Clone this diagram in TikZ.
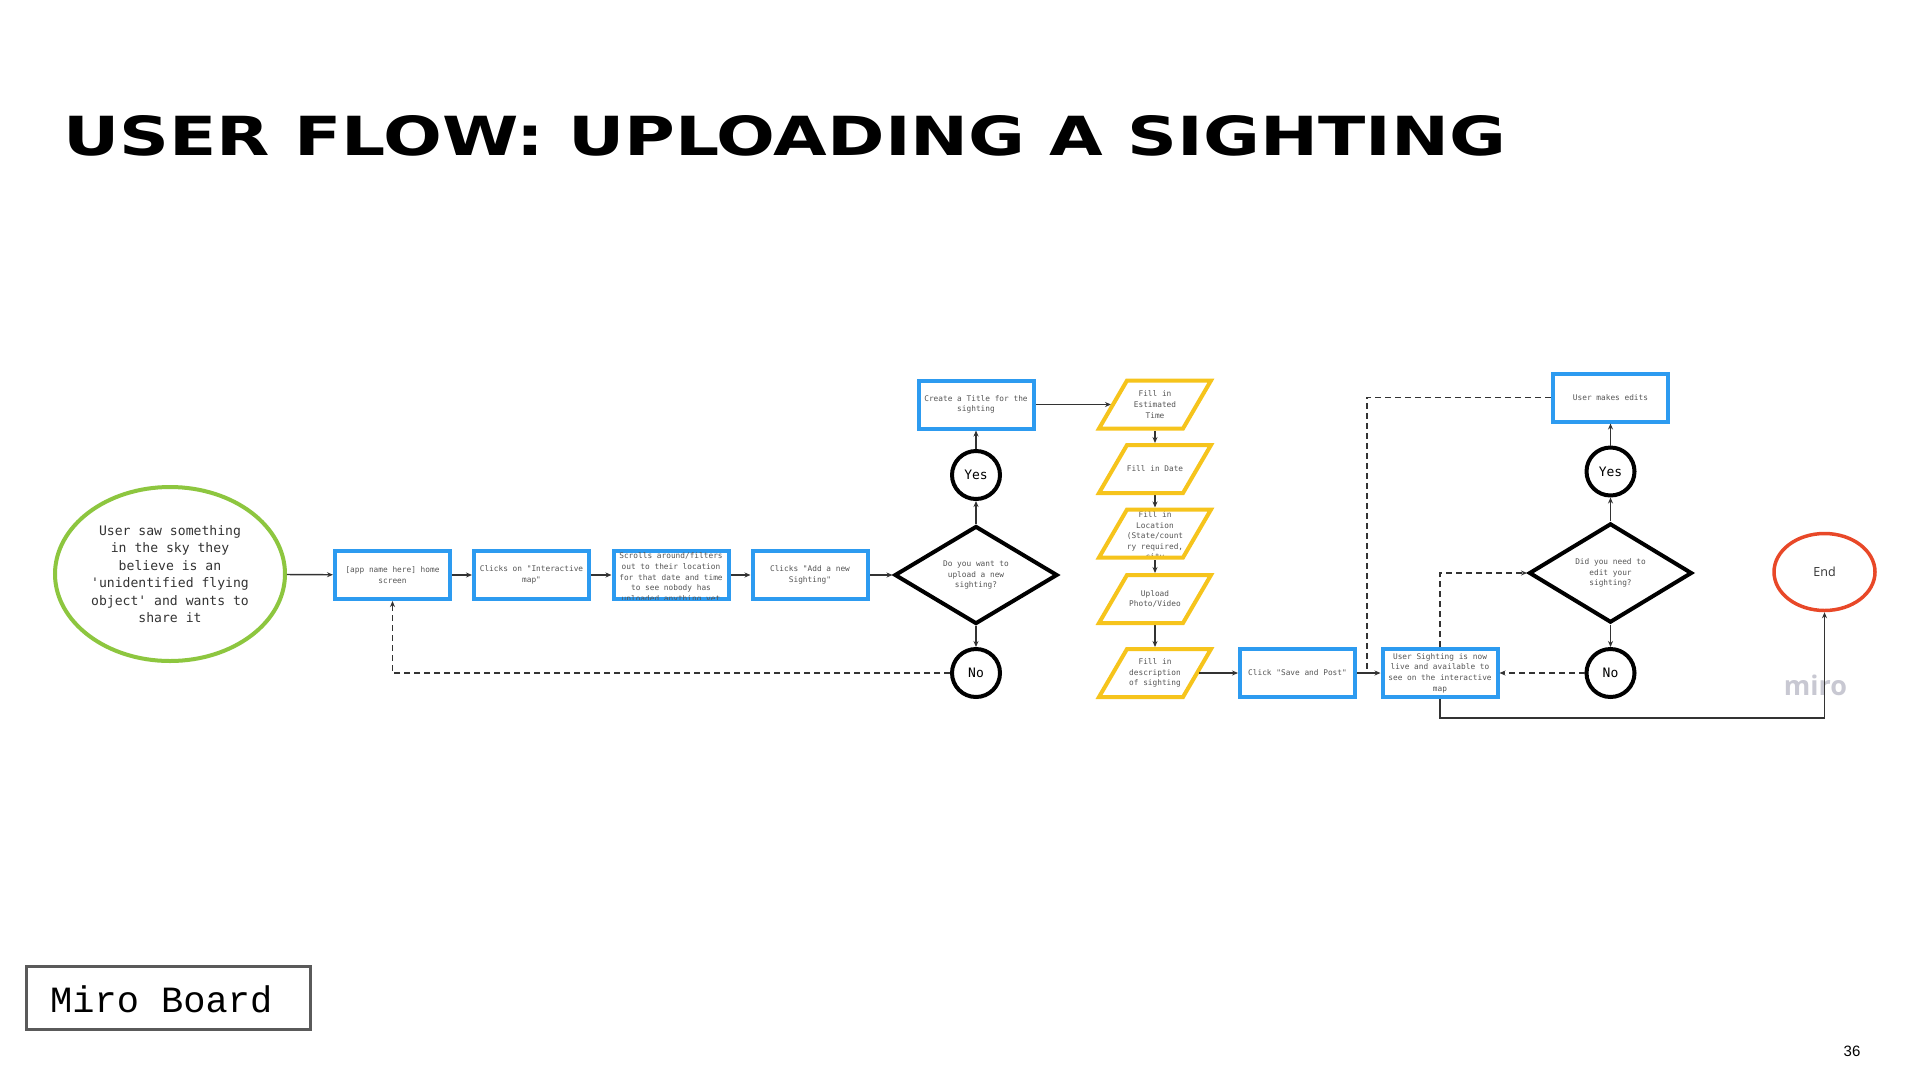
\documentclass[tikz,border=0pt]{standalone}
\usepackage{graphicx}
\usepackage{fontspec}
\setmainfont{Open Sans}
\setmonofont{DejaVu Sans Mono}
\newfontfamily\titlefont{DejaVu Sans}
\newfontfamily\courierfont{Liberation Mono}
\newfontfamily\arialfont{Liberation Sans}
\usetikzlibrary{arrows.meta,calc,shapes.geometric}
\definecolor{mrBlue}{RGB}{45,155,240}
\definecolor{mrYellow}{RGB}{246,196,28}
\definecolor{mrGreen}{RGB}{141,198,63}
\definecolor{mrRed}{RGB}{232,72,40}
\definecolor{mrInk}{RGB}{51,51,51}
\definecolor{mrText}{RGB}{85,85,85}
\definecolor{mrMark}{RGB}{200,200,210}
\definecolor{mrFrame}{RGB}{90,90,90}
\tikzset{
    >={Stealth[length=6pt,width=5pt]},
    every node/.append style={align=center},
    small/.style={font=\ttfamily\fontsize{7.8}{10.6}\selectfont,text=mrText},
    bluebox/.style={rectangle,draw=mrBlue,line width=4pt,minimum width=115pt,minimum height=48pt,inner sep=0pt,small},
    slant/.style={rectangle,minimum width=84pt,minimum height=48pt,inner sep=0pt,outer sep=2pt,small},
    slantline/.style={draw=mrYellow,line width=4pt,line join=miter},
    ask/.style={diamond,draw=black,line width=4pt,minimum width=163pt,minimum height=98pt,inner sep=0pt,small},
    answer/.style={circle,draw=black,line width=4pt,minimum size=48pt,inner sep=0pt,font=\ttfamily\fontsize{13}{15}\selectfont,text=black},
    link/.style={draw=mrInk,line width=1.4pt},
    back/.style={link,dash pattern=on 6pt off 4pt},
}
\begin{document}
\begin{tikzpicture}[x=1pt,y=-1pt]
    \fill[white] (0,0) rectangle (1920,1080);
    \useasboundingbox (0,0) rectangle (1920,1080);

    \node[anchor=base west,inner sep=0pt] (heading) at (63,155) {\resizebox{1442pt}{40pt}{\titlefont\bfseries USER FLOW: UPLOADING A SIGHTING}};

    \node[ellipse,draw=mrGreen,line width=4pt,minimum width=230pt,minimum height=174pt,inner sep=0pt,font=\ttfamily\fontsize{13.1}{17.5}\selectfont,text=mrInk] (saw) at (170,574) {User saw something\\in the sky they\\believe is an\\'unidentified flying\\object' and wants to\\share it};
    \node[bluebox] (home) at (392.5,575) {[app name here] home\\screen} edge[link,<-] (saw);
    \node[bluebox] (map) at (531.5,575) {Clicks on "Interactive\\map"} edge[link,<-] (home);
    \node[bluebox] (scroll) at (671,575) {} edge[link,<-] (map);
    \begin{scope}
        \clip ([xshift=4pt,yshift=2pt]scroll.south west) rectangle ([xshift=-4pt,yshift=-2pt]scroll.north east);
        \node[small,inner sep=0pt] (scrolltext) at (671,578) {Scrolls around/filters\\out to their location\\for that date and time\\to see nobody has\\uploaded anything yet};
    \end{scope}
    \node[bluebox] (addnew) at (810,575) {Clicks "Add a new\\Sighting"} edge[link,<-] (scroll);
    \node[ask] (wantup) at (976,575) {Do you want to\\upload a new\\sighting?} edge[link,<-] (addnew);
    \node[answer] (yesup) at (976,475) {Yes} edge[link,<-] (wantup);
    \node[answer] (noup) at (976,673) {No} edge[link,<-] (wantup);
    \node[bluebox] (titlebox) at (976,404.5) {Create a Title for the\\sighting} edge[link,<-] (yesup);

    \node[slant] (esttime) at (1155,404.5) {Fill in\\Estimated\\Time} edge[link,<-] (titlebox);
    \node[slant] (date) at (1155,469) {Fill in Date} edge[link,<-] (esttime);
    \node[slant] (loc) at (1155,533.5) {} edge[link,<-] (date);
    \begin{scope}
        \clip ([xshift=-70pt,yshift=4pt]loc.south) rectangle ([xshift=70pt,yshift=10pt]loc.north);
        \node[small,inner sep=0pt] (loctext) at (1155,536.5) {Fill in\\Location\\(State/count\\ry required,\\city};
    \end{scope}
    \node[slant] (media) at (1155,599) {Upload\\Photo/Video} edge[link,<-] (loc);
    \node[slant] (descr) at (1155,673) {Fill in\\description\\of sighting} edge[link,<-] (media);
    \foreach \p in {esttime,date,loc,media,descr}
        \draw[slantline] ($(\p)+(-56,24)$) -- ($(\p)+(28,24)$) -- ($(\p)+(56,-24)$) -- ($(\p)+(-28,-24)$) -- cycle;

    \node[bluebox] (post) at (1297.5,673) {Click "Save and Post"} edge[link,<-] (descr);
    \node[bluebox] (live) at (1440,673) {User Sighting is now\\live and available to\\see on the interactive\\map} edge[link,<-] (post);
    \node[ask] (wantedit) at (1610.5,573) {Did you need to\\edit your\\sighting?};
    \node[answer] (yesedit) at (1610.5,471.5) {Yes} edge[link,<-] (wantedit);
    \node[answer] (noedit) at (1610.5,673) {No} edge[link,<-] (wantedit);
    \node[bluebox] (edits) at (1610.5,397.5) {User makes edits} edge[link,<-] (yesedit);
    \node[ellipse,draw=mrRed,line width=3.5pt,minimum width=101pt,minimum height=77pt,inner sep=0pt,font=\fontsize{12.5}{15}\selectfont,text=mrInk] (finish) at (1824.5,572) {End};

    \draw[back,->] (noup.west) -| (home.south);
    \coordinate (merge) at ($(post.east)!0.42!(live.west)$);
    \draw[back] (edits.west) -| (merge);
    \draw[back,->] (live.north) |- (wantedit.west);
    \draw[back,->] (noedit.west) -- (live.east);

    \node[anchor=base,font=\bfseries\fontsize{27}{30}\selectfont,text=mrMark] (watermark) at (1815.5,695) {miro};
    \coordinate (turn) at ($(live.south)+(0,19)$);
    \draw[link,->] (live.south) -- (turn) -| (finish.south);

    \node[draw=mrFrame,line width=2.5pt,minimum width=284pt,minimum height=63pt] (board) at (168.5,998) {};
    \node[anchor=west,inner sep=0pt,font=\courierfont\fontsize{37}{40}\selectfont] (boardtext) at (50,999) {Miro Board};
    \node[font=\arialfont\fontsize{15}{18}\selectfont] (pagenum) at (1852,1051.5) {36};
\end{tikzpicture}
\end{document}
